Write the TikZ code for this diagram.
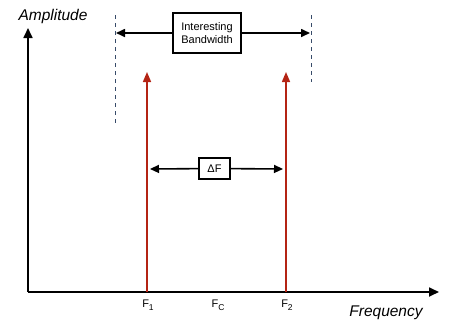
\documentclass[tikz,border=0pt]{standalone}
\usepackage{fontspec}
\setmainfont{Liberation Sans}
\usetikzlibrary{arrows.meta,positioning}
\definecolor{tonered}{RGB}{180,36,20}
\definecolor{edgeblue}{RGB}{55,75,105}
\newcommand{\lowsub}[1]{\raisebox{-3pt}{\fontsize{8.5}{10}\selectfont#1}}

\begin{document}
\begin{tikzpicture}[
    x=1pt, y=-1pt,
    axis/.style={-{Triangle[length=10pt,width=9pt]}, line width=1.7pt},
    tone/.style={-{Triangle[length=10pt,width=8pt]}, tonered, line width=1.5pt},
    span/.style={-{Triangle[length=9pt,width=8pt]}, line width=1.6pt},
    tag/.style={draw, line width=1.4pt, fill=white, align=center, inner sep=1pt, font=\fontsize{11}{12.5}\selectfont},
    bandedge/.style={edgeblue, line width=1pt, dash pattern=on 4pt off 4pt},
    axislabel/.style={font=\fontsize{15.5}{18}\selectfont\itshape},
    tick/.style={font=\fontsize{11}{12}\selectfont}
]
\useasboundingbox (0,0) rectangle (458,325);

% Axes
\coordinate (origin) at (28,292);
\coordinate (ytop) at (28,28);
\coordinate (xend) at (439,292);
\draw[axis] (origin) -- (ytop);
\draw[axis] (origin) -- (xend);
\node[axislabel] (amp) at (53,16) {Amplitude};
\node[axislabel] (freq) at (386,313) {Frequency};

% Tones
\coordinate (f1base) at (147,292);
\coordinate (f1top) at (147,72);
\coordinate (f2base) at (286,292);
\coordinate (f2top) at (286,72);
\draw[tone] (f1base) -- (f1top);
\draw[tone] (f2base) -- (f2top);
\node[tick] (f1) at (148,305) {F\lowsub{1}};
\node[tick] (fc) at (218,305) {F\lowsub{C}};
\node[tick] (f2) at (287,305) {F\lowsub{2}};

% Band edges
\coordinate (lefttop) at (115,15);
\coordinate (leftbot) at (115,123);
\coordinate (righttop) at (311,15);
\coordinate (rightbot) at (311,82);
\draw[bandedge] (lefttop) -- (leftbot);
\draw[bandedge] (righttop) -- (rightbot);

% Bandwidth
\node[tag, minimum width=68pt, minimum height=40pt] (bw) at (207,33) {Interesting\\Bandwidth};
\coordinate (bwleft) at (116,33);
\coordinate (bwright) at (310,33);
\draw[span] (bw) -- (bwleft);
\draw[span] (bw) -- (bwright);

% Spacing
\node[tag, minimum width=31pt, minimum height=21pt] (df) at (214.5,168.5) {ΔF};
\coordinate (dfleft) at (150,169);
\coordinate (dfright) at (283,169);
\draw[span] (df) -- (dfleft);
\draw[span] (df) -- (dfright);

\end{tikzpicture}
\end{document}
